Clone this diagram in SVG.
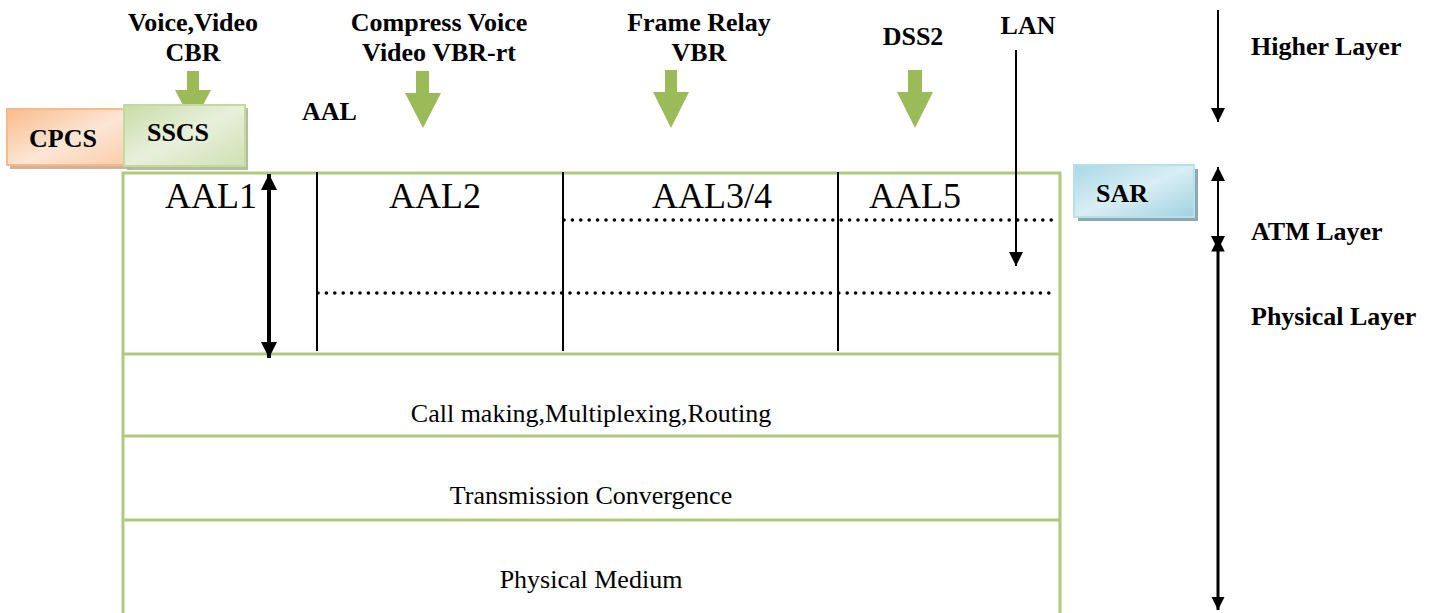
<svg xmlns="http://www.w3.org/2000/svg" width="1432" height="613" viewBox="0 0 1432 613">
  <style>
    .bold { font-family: "Liberation Serif", "Times New Roman", serif; font-weight: bold; font-size: 26px; fill: #000; }
    .big { font-family: "Liberation Serif", "Times New Roman", serif; font-size: 36px; fill: #000; }
    .plain { font-family: "Liberation Serif", "Times New Roman", serif; font-size: 26px; fill: #000; }
    .frame { stroke: #b0c97f; stroke-width: 3; fill: none; }
    .divider { stroke: #000; stroke-width: 2; }
    .dots { stroke: #000; stroke-width: 3.6; stroke-linecap: round; stroke-dasharray: 0 8.4; fill: none; }
    .thin { stroke: #000; stroke-width: 2; fill: none; }
    .thick { stroke: #000; stroke-width: 4; fill: none; }
    .feed { fill: #9bbb59; }
  </style>
  <defs>
    <linearGradient id="gGreen" x1="0" y1="0" x2="1" y2="1">
      <stop offset="0" stop-color="#c9dca6"/>
      <stop offset="0.5" stop-color="#e8f0dc"/>
      <stop offset="1" stop-color="#cfe0b2"/>
    </linearGradient>
    <linearGradient id="gOrange" x1="0" y1="0" x2="1" y2="1">
      <stop offset="0" stop-color="#f9bb8b"/>
      <stop offset="0.55" stop-color="#fde6d6"/>
      <stop offset="1" stop-color="#fbcca8"/>
    </linearGradient>
    <linearGradient id="gBlue" x1="0" y1="0" x2="1" y2="1">
      <stop offset="0" stop-color="#a9d8e5"/>
      <stop offset="0.5" stop-color="#d9eef4"/>
      <stop offset="1" stop-color="#9fd2e0"/>
    </linearGradient>
    <marker id="headS" viewBox="0 0 10 10" refX="10" refY="5" markerWidth="8" markerHeight="7" orient="auto-start-reverse" markerUnits="strokeWidth">
      <path d="M0,0 L10,5 L0,10 z" fill="#000"/>
    </marker>
    <marker id="headL" viewBox="0 0 10 10" refX="10" refY="5" markerWidth="4.5" markerHeight="4" orient="auto-start-reverse" markerUnits="strokeWidth">
      <path d="M0,0 L10,5 L0,10 z" fill="#000"/>
    </marker>
    <marker id="headB" viewBox="0 0 10 10" refX="10" refY="5" markerWidth="4.5" markerHeight="4.5" orient="auto-start-reverse" markerUnits="strokeWidth">
      <path d="M0,0 L10,5 L0,10 z" fill="#000"/>
    </marker>
  </defs>

  <!-- layer stack frame -->
  <g id="stack">
    <path class="frame" d="M123,613 V173 H1060 V613"/>
    <line class="frame" x1="123" y1="354" x2="1060" y2="354"/>
    <line class="frame" x1="123" y1="436" x2="1060" y2="436"/>
    <line class="frame" x1="123" y1="520" x2="1060" y2="520"/>
  </g>

  <!-- AAL column dividers and sublayer separators -->
  <g id="aal-columns">
    <line class="divider" x1="317" y1="172" x2="317" y2="351"/>
    <line class="divider" x1="563" y1="172" x2="563" y2="351"/>
    <line class="divider" x1="838" y1="172" x2="838" y2="351"/>
    <line class="dots" x1="564" y1="220" x2="1055" y2="220"/>
    <line class="dots" x1="318" y1="293" x2="1055" y2="293"/>
    <text class="big" x="165" y="208">AAL1</text>
    <text class="big" x="435" y="208" text-anchor="middle">AAL2</text>
    <text class="big" x="712" y="208" text-anchor="middle">AAL3/4</text>
    <text class="big" x="915" y="208" text-anchor="middle">AAL5</text>
  </g>

  <g id="atm-functions">
    <text class="plain" x="591" y="422" text-anchor="middle">Call making,Multiplexing,Routing</text>
  </g>
  <g id="tc-sublayer">
    <text class="plain" x="591" y="504" text-anchor="middle">Transmission Convergence</text>
  </g>
  <g id="pm-sublayer">
    <text class="plain" x="591" y="588" text-anchor="middle">Physical Medium</text>
  </g>

  <!-- service classes -->
  <g id="svc-cbr">
    <text class="bold" x="193" y="31" text-anchor="middle">Voice,Video</text>
    <text class="bold" x="193" y="61" text-anchor="middle">CBR</text>
  </g>
  <g id="svc-vbr-rt">
    <text class="bold" x="439" y="31" text-anchor="middle">Compress Voice</text>
    <text class="bold" x="439" y="61" text-anchor="middle">Video VBR-rt</text>
  </g>
  <g id="svc-vbr">
    <text class="bold" x="699" y="31" text-anchor="middle">Frame Relay</text>
    <text class="bold" x="699" y="61" text-anchor="middle">VBR</text>
  </g>
  <g id="svc-dss2">
    <text class="bold" x="913" y="45" text-anchor="middle">DSS2</text>
  </g>
  <g id="svc-lan">
    <text class="bold" x="1028" y="34" text-anchor="middle">LAN</text>
  </g>
  <g id="aal-label">
    <text class="bold" x="302" y="120">AAL</text>
  </g>

  <!-- connectors -->
  <g id="connectors">
    <path class="feed" d="M187,71 H199 V90 H211 L193,124 L175,90 H187 Z"/>
    <path class="feed" d="M416,71 H429 V93 H441 L423,128 L405,93 H416 Z"/>
    <path class="feed" d="M665,70 H677 V92 H689 L671,128 L653,92 H665 Z"/>
    <path class="feed" d="M908,70 H922 V92 H933 L915,128 L897,92 H908 Z"/>
    <line class="thin" x1="1016" y1="50" x2="1016" y2="266" marker-end="url(#headS)"/>
    <line class="thick" x1="269" y1="174" x2="269" y2="358" marker-start="url(#headL)" marker-end="url(#headL)"/>
    <line class="thin" x1="1218" y1="10" x2="1218" y2="122" marker-end="url(#headS)"/>
    <line class="thin" x1="1218" y1="250" x2="1218" y2="167" marker-start="url(#headS)" marker-end="url(#headS)"/>
    <line x1="1218" y1="238" x2="1218" y2="610" stroke="#000" stroke-width="3" marker-start="url(#headB)" marker-end="url(#headB)"/>
  </g>

  <!-- sublayer tags -->
  <g id="cpcs">
    <rect x="10" y="112" width="121" height="57" fill="#c9a486" opacity="0.85"/>
    <rect x="7" y="109" width="120" height="56" fill="url(#gOrange)" stroke="#f7b98a" stroke-width="2"/>
    <text class="bold" x="63" y="147" text-anchor="middle" font-size="24">CPCS</text>
  </g>
  <g id="sscs">
    <rect x="127" y="108" width="121" height="62" fill="#a9b894" opacity="0.9"/>
    <rect x="124" y="105" width="121" height="61" fill="url(#gGreen)" stroke="#c3d9a0" stroke-width="2"/>
    <text class="bold" x="178" y="141" text-anchor="middle" font-size="24">SSCS</text>
  </g>
  <g id="sar">
    <rect x="1078" y="169" width="120" height="52" fill="#8ea9b0"/>
    <rect x="1074" y="165" width="120" height="52" fill="url(#gBlue)" stroke="#b7e0ea" stroke-width="2"/>
    <text class="bold" x="1122" y="202" text-anchor="middle" font-size="24">SAR</text>
  </g>

  <!-- layer names -->
  <g id="higher-layer">
    <text class="bold" x="1251" y="55">Higher Layer</text>
  </g>
  <g id="atm-layer">
    <text class="bold" x="1251" y="240">ATM Layer</text>
  </g>
  <g id="physical-layer">
    <text class="bold" x="1251" y="325">Physical Layer</text>
  </g>
</svg>
